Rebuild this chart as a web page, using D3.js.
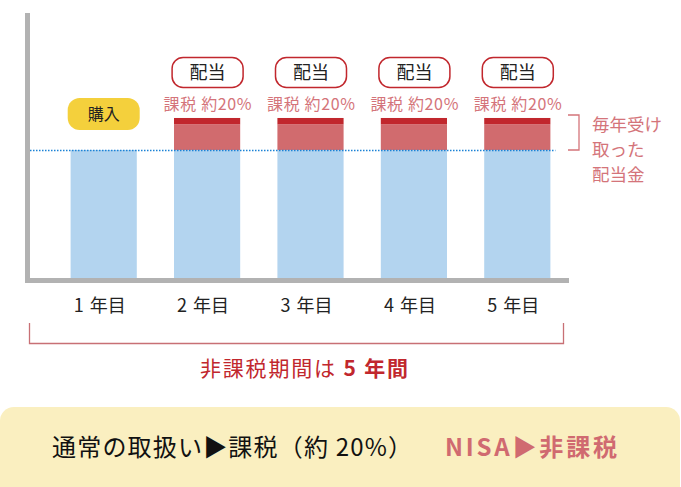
<!DOCTYPE html>
<html><head><meta charset="utf-8">
<script src="https://cdn.jsdelivr.net/npm/d3@7"></script>
<style>
html,body{margin:0;padding:0;background:#fff;}
svg{display:block;font-family:"Noto Sans CJK JP","Noto Sans",sans-serif;}
</style></head>
<body>
<script>
// ---- data ----
const yearNums = ["1", "2", "3", "4", "5"];
const yearSuffix = "年目";
const years = yearNums.map(n => n + " " + yearSuffix);
const principal = [100, 100, 100, 100, 100];
const netDividend = [0, 20, 20, 20, 20];
const taxPart = [0, 5, 5, 5, 5];
const topLabels = ["購入", "配当", "配当", "配当", "配当"];
const taxLabel = "課税 約20%";
const sideNote = ["毎年受け", "取った", "配当金"];
const periodText = ["非課税期間は ", "5 年間"];
const footerLeft = "通常の取扱い▶課税（約 20%）";
const footerRight = "NISA▶非課税";

const W = 681, H = 487;
const svg = d3.select("body").append("svg").attr("width", W).attr("height", H);

const x = d3.scaleBand().domain(years).range([52, 569]).paddingInner(0.36).paddingOuter(0.18);
const y = d3.scaleLinear().domain([0, 207]).range([278, 13]);

const cBlue = "#b3d4ef", cRed = "#d16b6e", cDark = "#c1272d", cGray = "#b2b2b2";
const cText = "#d4747a";

// axes (gray L)
svg.append("rect").attr("x", 25).attr("y", y(207)).attr("width", 5).attr("height", y(0) - y(207) + 5).attr("fill", cGray);
svg.append("rect").attr("x", 25).attr("y", y(0)).attr("width", 569 - 25).attr("height", 5).attr("fill", cGray);

const data = years.map((d, i) => ({ year: d, num: yearNums[i], p: principal[i], n: netDividend[i], t: taxPart[i], label: topLabels[i] }));

// bars
const g = svg.append("g");
g.selectAll(".b").data(data).join("rect")
  .attr("x", d => x(d.year)).attr("width", x.bandwidth())
  .attr("y", d => y(d.p)).attr("height", d => y(0) - y(d.p)).attr("fill", cBlue);
g.selectAll(".n").data(data.filter(d => d.n > 0)).join("rect")
  .attr("x", d => x(d.year)).attr("width", x.bandwidth())
  .attr("y", d => y(d.p + d.n)).attr("height", d => y(d.p) - y(d.p + d.n)).attr("fill", cRed);
g.selectAll(".t").data(data.filter(d => d.t > 0)).join("rect")
  .attr("x", d => x(d.year)).attr("width", x.bandwidth())
  .attr("y", d => y(d.p + d.n + d.t)).attr("height", d => y(d.p + d.n) - y(d.p + d.n + d.t)).attr("fill", cDark);

// dotted line at principal level
svg.append("line").attr("x1", 30).attr("x2", x(years[4]) + x.bandwidth() + 5)
  .attr("y1", y(100) + 0.5).attr("y2", y(100) + 0.5)
  .attr("stroke", "#1b82d6").attr("stroke-width", 1.3).attr("stroke-dasharray", "1.5,1.5");

// category labels
const cat = svg.selectAll(".cat").data(data).join("text")
  .attr("x", d => x(d.year) + x.bandwidth() / 2 - 30).attr("y", 312)
  .attr("font-size", 18).attr("fill", "#222");
cat.append("tspan").text(d => d.num);
cat.append("tspan").attr("dx", 6).text(yearSuffix);

// top labels
data.forEach((d, i) => {
  const cx = x(d.year) + x.bandwidth() / 2;
  if (d.n === 0) {
    svg.append("rect").attr("x", cx - 36).attr("y", 98).attr("width", 72).attr("height", 32)
      .attr("rx", 12).attr("fill", "#f4d03c");
    svg.append("text").attr("x", cx).attr("y", 120).attr("text-anchor", "middle")
      .attr("font-size", 16).attr("fill", "#222").text(d.label);
  } else {
    const top = y(d.p + d.n + d.t);
    svg.append("rect").attr("x", cx - 35).attr("y", 57.5).attr("width", 71).attr("height", 30)
      .attr("rx", 11).attr("fill", "#fff").attr("stroke", "#c1272d").attr("stroke-width", 1.5);
    svg.append("text").attr("x", cx + 0.5).attr("y", 79).attr("text-anchor", "middle")
      .attr("font-size", 18).attr("fill", "#222").text(d.label);
    svg.append("text").attr("x", cx - 43.5).attr("y", top - 8)
      .attr("textLength", 88).attr("lengthAdjust", "spacing")
      .attr("font-size", 16).attr("fill", cText).text(taxLabel);
  }
});

// right bracket
const bx = 568, bTop = y(125) - 3, bBot = y(100);
svg.append("path").attr("d", `M${bx},${bTop}H${bx + 11}V${bBot}H${bx}`)
  .attr("fill", "none").attr("stroke", cText).attr("stroke-width", 1.3);
svg.selectAll(".side").data(sideNote).join("text")
  .attr("x", 592).attr("y", (d, i) => 131 + i * 25)
  .attr("font-size", 17.5).attr("fill", cText).text(d => d);

// bottom bracket
svg.append("path").attr("d", `M29.5,323V343.5H563.5V323`).attr("fill", "none")
  .attr("stroke", "#c87075").attr("stroke-width", 1.3);
const pt = svg.append("text").attr("x", 200).attr("y", 376)
  .attr("textLength", 208).attr("lengthAdjust", "spacing")
  .attr("font-size", 21).attr("fill", "#c1272d");
pt.append("tspan").text(periodText[0]);
pt.append("tspan").attr("font-weight", "bold").text(periodText[1]);

// footer box
svg.append("rect").attr("x", 0).attr("y", 407).attr("width", 680).attr("height", 95).attr("rx", 14)
  .attr("fill", "#faefc0");
svg.append("text").attr("x", 52).attr("y", 456).attr("font-size", 24)
  .attr("textLength", 360).attr("lengthAdjust", "spacing").attr("fill", "#111").text(footerLeft);
svg.append("text").attr("x", 445).attr("y", 456).attr("font-size", 24).attr("font-weight", "bold")
  .attr("textLength", 172).attr("lengthAdjust", "spacing")
  .attr("fill", "#d06a70").text(footerRight);
</script>
</body></html>
